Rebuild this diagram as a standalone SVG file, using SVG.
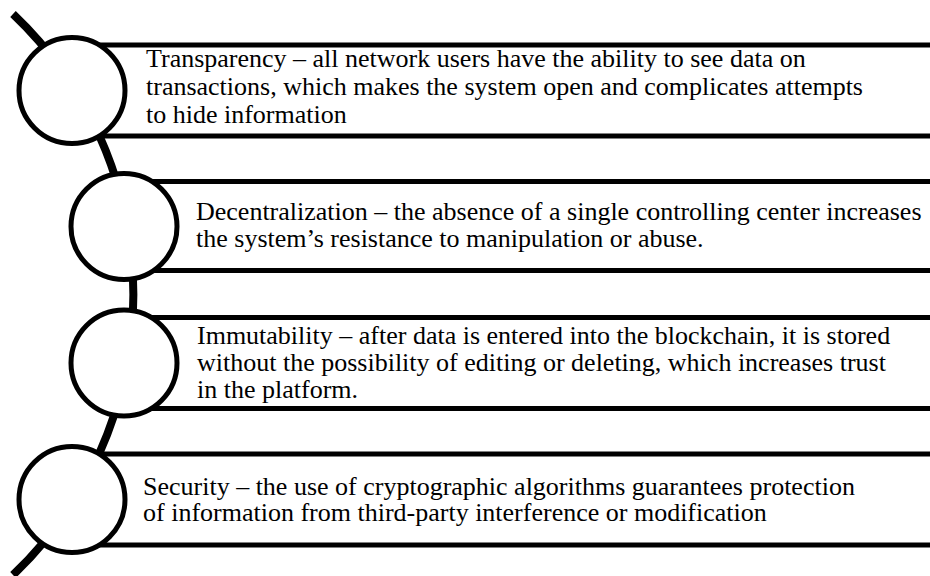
<svg xmlns="http://www.w3.org/2000/svg" width="930" height="576" viewBox="0 0 930 576">
<style>
.bar{fill:#fff;stroke:#000;stroke-width:5}
.node circle{fill:#fff;stroke:#000;stroke-width:5}
.t{fill:#000;font-family:"Liberation Serif","Times New Roman",serif;font-size:26px}
</style>
<rect width="930" height="576" fill="#fff"/>
<g id="connectors">
<path d="M13,14 A387,387 0 0 1 13,575" fill="none" stroke="#000" stroke-width="8"/>
</g>
<g id="node1" class="node">
<rect class="bar" x="72" y="45" width="870" height="91"/>
<circle cx="72" cy="90.5" r="53"/>
<text class="t" x="146" y="67">Transparency – all network users have the ability to see data on</text>
<text class="t" x="146" y="95">transactions, which makes the system open and complicates attempts</text>
<text class="t" x="146" y="123">to hide information</text>
</g>
<g id="node2" class="node">
<rect class="bar" x="124" y="181.5" width="820" height="89"/>
<circle cx="124" cy="226.5" r="53"/>
<text class="t" x="196" y="220">Decentralization – the absence of a single controlling center increases</text>
<text class="t" x="196" y="247">the system’s resistance to manipulation or abuse.</text>
</g>
<g id="node3" class="node">
<rect class="bar" x="124" y="317.5" width="820" height="91"/>
<circle cx="124" cy="363" r="53"/>
<text class="t" x="197" y="344">Immutability – after data is entered into the blockchain, it is stored</text>
<text class="t" x="197" y="371">without the possibility of editing or deleting, which increases trust</text>
<text class="t" x="197" y="398">in the platform.</text>
</g>
<g id="node4" class="node">
<rect class="bar" x="72" y="454" width="870" height="91"/>
<circle cx="72" cy="499.5" r="53"/>
<text class="t" x="143" y="495">Security – the use of cryptographic algorithms guarantees protection</text>
<text class="t" x="143" y="521">of information from third-party interference or modification</text>
</g>
</svg>
